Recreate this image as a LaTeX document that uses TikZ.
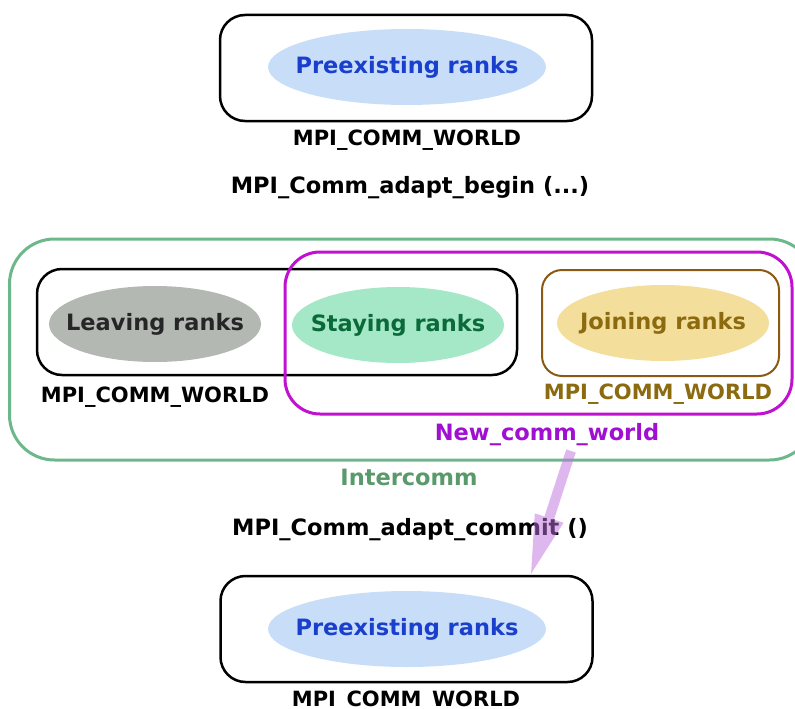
\documentclass[tikz,border=0pt]{standalone}
\usepackage{fontspec}
\setmainfont{DejaVu Sans}
\usepackage{xcolor}
\usepackage{tikz}
\usetikzlibrary{arrows.meta, positioning, shapes.geometric}
\definecolor{rankblue}{HTML}{C8DDF8}
\definecolor{rankbluetxt}{HTML}{1A3FCC}
\definecolor{leavegray}{HTML}{B3B8B3}
\definecolor{staygreen}{HTML}{A5E8C7}
\definecolor{staytxt}{HTML}{0A6A3A}
\definecolor{joinyellow}{HTML}{F3DF9B}
\definecolor{jointxt}{HTML}{8B6A10}
\definecolor{joinbrown}{HTML}{8B5A10}
\definecolor{intergreen}{HTML}{6DB88A}
\definecolor{intertxt}{HTML}{5A9A6A}
\definecolor{newmag}{HTML}{C010D0}
\definecolor{newtxt}{HTML}{A010D0}
\definecolor{flowpurple}{HTML}{C070E0}

\begin{document}
\begin{tikzpicture}[
    x=1pt, y=-1pt,
    every node/.style={font=\fontsize{22.5}{26}\selectfont\bfseries},
    world/.style={font=\fontsize{21}{24}\selectfont\bfseries},
    comm/.style={
        rectangle, rounded corners=25pt, draw=black,
        line width=2.5pt, minimum width=372pt,
        minimum height=106pt
    },
    ranks/.style={
        ellipse, draw=none, inner sep=0pt,
        minimum width=212pt, minimum height=76pt
    },
    flow/.style={-{Triangle[length=62pt,width=27pt]},
        line width=10pt, flowpurple}
]
\clip (0,0) rectangle (795,709);

% before adapt
\node[comm] (topbox) at (406,68) {};
\node[ranks, fill=rankblue, minimum width=278pt,
    label={[text=rankbluetxt]center:Preexisting ranks}]
    (pre1) at (407,67) {};
\node[world] (toplbl) at (407,140) {MPI\_COMM\_WORLD};
\node (begin) at (410,188) {MPI\_Comm\_adapt\_begin (...)};

% during adapt
\node[comm, draw=intergreen, line width=3pt, rounded corners=45pt,
    minimum width=805pt, minimum height=221pt]
    (inter) at (412,349.5) {};
\node[comm, minimum width=480pt] (oldbox) at (277,322) {};
\node[ranks, fill=leavegray,
    label={[text=black!85]center:Leaving ranks}]
    (leave) at (155,324) {};
\node[comm, draw=newmag, line width=3pt, rounded corners=35pt,
    minimum width=507pt, minimum height=162pt]
    (newbox) at (538.5,333) {};
\node[ranks, fill=staygreen,
    label={[text=staytxt]center:Staying ranks}]
    (stay) at (398,325) {};
\node[comm, draw=joinbrown, line width=2pt, rounded corners=20pt,
    minimum width=237pt] (joinbox) at (660.5,323) {};
\node[ranks, fill=joinyellow,
    label={[text=jointxt]center:Joining ranks}]
    (join) at (663,323) {};
\node[world] (oldlbl) at (155,397) {MPI\_COMM\_WORLD};
\node[world, text=jointxt] (joinlbl) at (658,394) {MPI\_COMM\_WORLD};
\node[text=newtxt] (newlbl) at (547,435) {New\_comm\_world};
\node[text=intertxt] (interlbl) at (409,477) {Intercomm};
\node (commit) at (410,530) {MPI\_Comm\_adapt\_commit ()};

% after adapt
\node[comm] (botbox) at (406.5,629) {};
\node[ranks, fill=rankblue, minimum width=278pt,
    label={[text=rankbluetxt]center:Preexisting ranks}]
    (pre2) at (407,629) {};
\node[world] (botlbl) at (406,701) {MPI\_COMM\_WORLD};

\begin{scope}[transparency group, opacity=0.5]
\draw[flow] ([xshift=24pt,yshift=-16pt]newlbl.center)
    -- ([xshift=123.5pt,yshift=-2.25pt]botbox.north);
\end{scope}
\end{tikzpicture}
\end{document}
